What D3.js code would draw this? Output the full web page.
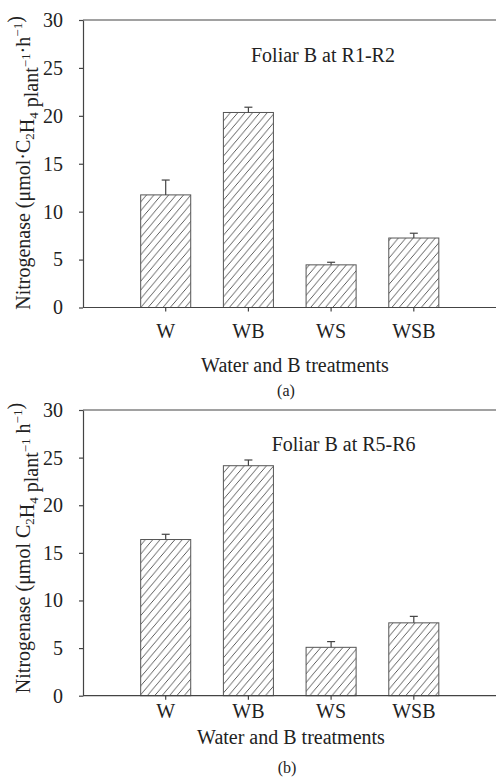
<!DOCTYPE html>
<html><head><meta charset="utf-8">
<script src="https://cdn.jsdelivr.net/npm/d3@7"></script>
<style>
html,body{margin:0;padding:0;background:#fff;}
svg text{font-family:"Liberation Serif","Times New Roman",serif;fill:#222;}
</style>
</head><body>
<svg id="c" width="496" height="780"></svg>
<script>
const categories = ["W", "WB", "WS", "WSB"];
const valuesA = [11.75, 20.35, 4.45, 7.25];
const errorsA = [1.55, 0.55, 0.27, 0.5];
const valuesB = [16.4, 24.15, 5.08, 7.65];
const errorsB = [0.55, 0.6, 0.6, 0.68];
const yTicks = [0, 5, 10, 15, 20, 25, 30];
const titleA = "Foliar B at R1-R2";
const titleB = "Foliar B at R5-R6";
const xLabel = "Water and B treatments";

const svg = d3.select("#c");
const defs = svg.append("defs");
const pat = defs.append("pattern").attr("id","hatch").attr("patternUnits","userSpaceOnUse")
  .attr("width",8).attr("height",8).attr("patternTransform","rotate(-5)");
pat.append("rect").attr("width",8).attr("height",8).attr("fill","#fff");
pat.append("path").attr("d","M-2,2 L2,-2 M0,8 L8,0 M6,10 L10,6")
  .attr("stroke","#555").attr("stroke-width",1);

function panel(cfg){
  const g = svg.append("g");
  const x = d3.scaleBand().domain(categories).range([83, 496.5])
    .paddingInner(0.395).paddingOuter(0.6975);
  const y = d3.scaleLinear().domain([0,30]).range([cfg.y0, cfg.y1]);
  // frame top/right
  g.append("path").attr("d", `M83,${y(30)} L497,${y(30)} L497,${y(0)}`)
    .attr("fill","none").attr("stroke","#444").attr("stroke-width",1.2);
  // bars
  const data = categories.map((c,i)=>({c, v:cfg.values[i], e:cfg.errors[i]}));
  g.selectAll("rect.bar").data(data).enter().append("rect").attr("class","bar")
    .attr("x", d=>x(d.c)).attr("width", x.bandwidth())
    .attr("y", d=>y(d.v)).attr("height", d=>y(0)-y(d.v))
    .attr("fill","url(#hatch)").attr("stroke","#555").attr("stroke-width",1);
  // error bars
  const cx = d=>x(d.c)+x.bandwidth()/2;
  g.selectAll("line.err").data(data).enter().append("line")
    .attr("x1",cx).attr("x2",cx).attr("y1",d=>y(d.v)).attr("y2",d=>y(d.v+d.e))
    .attr("stroke","#444").attr("stroke-width",1.2);
  g.selectAll("line.cap").data(data).enter().append("line")
    .attr("x1",d=>cx(d)-4).attr("x2",d=>cx(d)+4).attr("y1",d=>y(d.v+d.e)).attr("y2",d=>y(d.v+d.e))
    .attr("stroke","#444").attr("stroke-width",1.2);
  // axes
  const ya = g.append("g").attr("transform","translate(83,0)")
    .call(d3.axisLeft(y).tickValues(yTicks).tickSize(4).tickPadding(16).tickSizeOuter(0));
  ya.select(".domain").attr("stroke","#444").attr("stroke-width",1.2);
  ya.selectAll(".tick line").attr("stroke","#444").attr("stroke-width",1.2);
  ya.selectAll("text").attr("font-size",20).attr("font-family","Liberation Serif").attr("fill","#222");
  const xa = g.append("g").attr("transform",`translate(0,${y(0)})`)
    .call(d3.axisBottom(x).tickSize(4).tickPadding(cfg.xpad).tickSizeOuter(0));
  xa.select(".domain").attr("d",`M83,0H497`).attr("stroke","#444").attr("stroke-width",1.2);
  xa.selectAll(".tick line").attr("stroke","#444").attr("stroke-width",1.2);
  xa.selectAll("text").attr("font-size",20).attr("font-family","Liberation Serif").attr("fill","#222");
  // title
  g.append("text").attr("x",cfg.tx).attr("y",cfg.ty).attr("font-size",20).text(cfg.title);
  // x label
  g.append("text").attr("x",cfg.xlx).attr("y",cfg.xly).attr("text-anchor","middle")
    .attr("font-size",20).text(xLabel);
  g.append("text").attr("x",cfg.px).attr("y",cfg.py).attr("text-anchor","middle")
    .attr("font-size",16).text(cfg.panelLabel);
  // y label
  const yl = g.append("text").attr("transform",`translate(30,${cfg.ylc}) rotate(-90)`)
    .attr("text-anchor","middle").attr("font-size",20);
  cfg.ylab(yl);
}

function sub(t, s){ t.append("tspan").attr("font-size",13).attr("dy",4).text(s); t.append("tspan").attr("dy",-4).text(""); }
function sup(t, s){ t.append("tspan").attr("font-size",13).attr("dy",-8).text(s); t.append("tspan").attr("dy",8).text(""); }

panel({y0:307.5, y1:20, values:valuesA, errors:errorsA, xpad:12.3, title:titleA, tx:251, ty:61.7,
  xlx:295, xly:371.7, px:286, py:396, panelLabel:"(a)", ylc:163,
  ylab: t=>{ t.append("tspan").text("Nitrogenase (μmol·C"); sub(t,"2"); t.append("tspan").text("H"); sub(t,"4");
    t.append("tspan").text(" plant"); sup(t,"−1"); t.append("tspan").text("·h"); sup(t,"−1"); t.append("tspan").text(")"); }});
panel({y0:695.7, y1:410, values:valuesB, errors:errorsB, xpad:4.4, title:titleB, tx:271.7, ty:450.7,
  xlx:291, xly:744, px:287, py:773, panelLabel:"(b)", ylc:548,
  ylab: t=>{ t.append("tspan").text("Nitrogenase (μmol C"); sub(t,"2"); t.append("tspan").text("H"); sub(t,"4");
    t.append("tspan").text(" plant"); sup(t,"−1"); t.append("tspan").text(" h"); sup(t,"−1"); t.append("tspan").text(")"); }});
</script>
</body></html>
